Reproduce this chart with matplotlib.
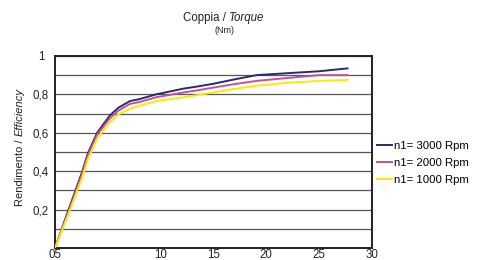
import matplotlib

matplotlib.use("Agg")
import matplotlib.pyplot as plt
from matplotlib import font_manager
from matplotlib.ticker import MultipleLocator

# pick the regular Liberation Sans face (not the Narrow one)
family = "DejaVu Sans"
for entry in font_manager.fontManager.ttflist:
    if entry.fname.endswith("LiberationSans-Regular.ttf"):
        family = entry.name
        break
plt.rcParams["font.family"] = [family, "DejaVu Sans"]

# torque (Nm) and efficiency readings
torque = [0, 1.3, 2.6, 3.1, 4.0, 5.2, 6.0, 7.1, 8.0, 9.6, 12.2, 13.4, 15.0, 17.2, 19.1, 22.0, 25.0, 27.7]
eff_3000 = [0, 0.20, 0.40, 0.49, 0.60, 0.69, 0.73, 0.765, 0.775, 0.80, 0.83, 0.84, 0.855, 0.88, 0.90, 0.91, 0.92, 0.935]
eff_2000 = [0, 0.19, 0.39, 0.48, 0.59, 0.675, 0.715, 0.75, 0.76, 0.785, 0.81, 0.82, 0.835, 0.855, 0.87, 0.885, 0.90, 0.90]
eff_1000 = [0, 0.18, 0.37, 0.46, 0.57, 0.655, 0.695, 0.725, 0.74, 0.765, 0.785, 0.795, 0.81, 0.83, 0.845, 0.86, 0.87, 0.875]

series = [
    ("n1= 3000 Rpm", eff_3000, "#2a2a6e"),
    ("n1= 2000 Rpm", eff_2000, "#c4509e"),
    ("n1= 1000 Rpm", eff_1000, "#ffe800"),
]

x_ticks = [0, 10, 15, 20, 25, 30]
x_labels = ["05", "10", "15", "20", "25", "30"]
y_ticks = [0.2, 0.4, 0.6, 0.8, 1.0]
y_labels = ["0,2", "0,4", "0,6", "0,8", "1"]

fig = plt.figure(figsize=(4.86, 2.6), dpi=100)
ax = fig.add_axes([0.113, 0.046, 0.652, 0.739])

for label, values, color in series:
    ax.plot(torque, values, color=color, lw=1.4, label=label, zorder=3)

ax.set_xlim(0, 30)
ax.set_ylim(0, 1)
ax.yaxis.set_minor_locator(MultipleLocator(0.1))
ax.grid(axis="y", which="both", color="#555555", lw=0.9)
ax.set_xticks(x_ticks)
ax.set_xticklabels(x_labels)
ax.set_yticks(y_ticks)
ax.set_yticklabels(y_labels, ha="center")
ax.tick_params(axis="x", length=0, labelsize=8.3, pad=1, colors="#222222")
ax.tick_params(axis="y", length=0, labelsize=8.3, pad=10, colors="#222222")
ax.tick_params(which="minor", length=0)
for spine in ax.spines.values():
    spine.set_linewidth(1.4)
    spine.set_color("#222222")

# title and y label, with the English words in italics
renderer = fig.canvas.get_renderer()
title_a = fig.text(0, 0.92, "Coppia / ", fontsize=8.3, color="#222222")
title_b = fig.text(0, 0.92, "Torque", fontsize=8.3, style="italic", color="#222222")
wa = title_a.get_window_extent(renderer).width
wb = title_b.get_window_extent(renderer).width
left = 224 - (wa + wb) / 2
title_a.set_x(left / 486)
title_b.set_x((left + wa) / 486)
fig.text(224 / 486, 0.873, "(Nm)", ha="center", fontsize=6.5, color="#222222")

ylab_a = fig.text(20 / 486, 0, "Rendimento / ", rotation=90, ha="center", va="bottom",
                  fontsize=8, color="#222222")
ylab_b = fig.text(20 / 486, 0, "Efficiency", rotation=90, ha="center", va="bottom",
                  fontsize=8, style="italic", color="#222222")
ha_ = ylab_a.get_window_extent(renderer).height
hb_ = ylab_b.get_window_extent(renderer).height
bottom = 260 - 147 - (ha_ + hb_) / 2
ylab_a.set_y(bottom / 260)
ylab_b.set_y((bottom + ha_) / 260)

ax.legend(
    loc="center left",
    bbox_to_anchor=(1.0, 0.442),
    frameon=False,
    fontsize=8.2,
    handlelength=1.3,
    handletextpad=0.2,
    labelspacing=0.6,
    borderaxespad=0.05,
)

fig.savefig("out.png", dpi=100)
